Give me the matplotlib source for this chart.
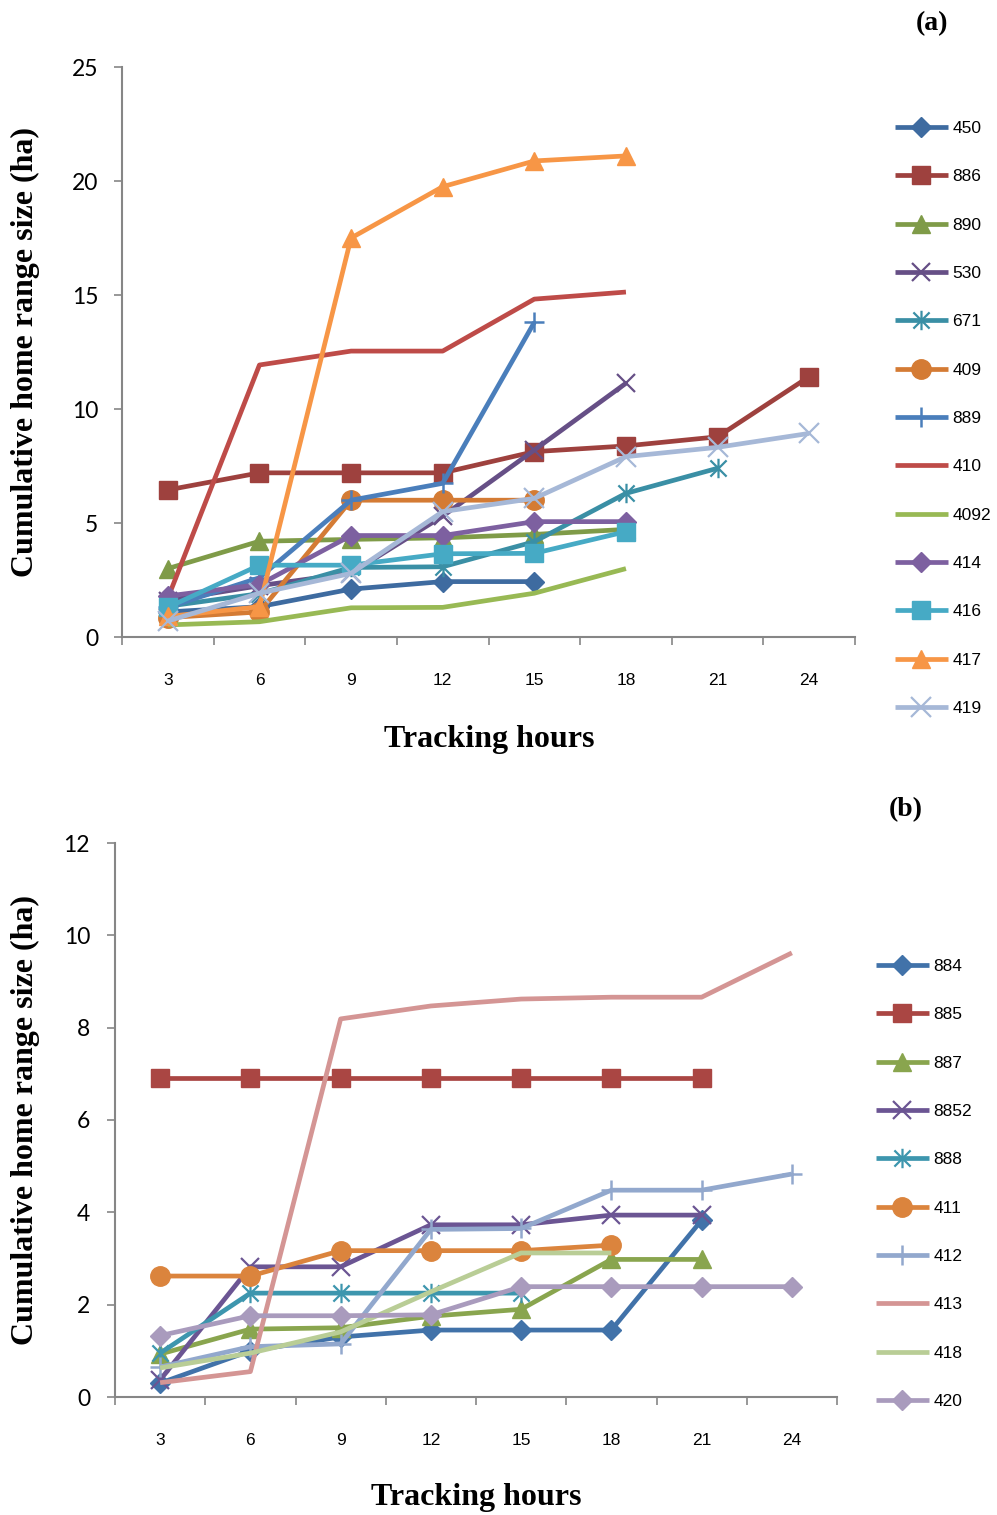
import numpy as np
import matplotlib
matplotlib.use('Agg')
import matplotlib.pyplot as plt
from matplotlib.path import Path
from matplotlib.ticker import FixedLocator, NullFormatter, FixedFormatter

# ---------------- data ----------------
hours = [3, 6, 9, 12, 15, 18, 21, 24]

# panel (a)
a_labels = ['450', '886', '890', '530', '671', '409', '889', '410', '4092', '414', '416', '417', '419']
a_450 = [1.1, 1.33, 2.1, 2.43, 2.43]
a_886 = [6.45, 7.2, 7.2, 7.2, 8.13, 8.38, 8.78, 11.42]
a_890 = [3.0, 4.2, 4.28, 4.35, 4.5, 4.72]
a_530 = [1.6, 2.25, 2.8, 5.3, 8.2, 11.13]
a_671 = [1.35, 1.9, 3.05, 3.08, 4.18, 6.3, 7.4]
a_409 = [0.85, 1.1, 6.0, 6.0, 6.0]
a_889 = [1.3, 2.6, 6.0, 6.74, 13.8]
a_410 = [1.7, 11.93, 12.54, 12.54, 14.82, 15.13]
a_4092 = [0.53, 0.67, 1.28, 1.3, 1.92, 3.0]
a_414 = [1.8, 2.3, 4.45, 4.45, 5.06, 5.06]
a_416 = [1.3, 3.15, 3.15, 3.65, 3.67, 4.62]
a_417 = [0.9, 1.33, 17.5, 19.75, 20.88, 21.1]
a_419 = [0.7, 1.92, 2.79, 5.5, 6.08, 7.91, 8.32, 8.93]

# panel (b)
b_labels = ['884', '885', '887', '8852', '888', '411', '412', '413', '418', '420']
b_884 = [0.3, 1.0, 1.3, 1.45, 1.45, 1.45, 3.83]
b_885 = [6.91, 6.91, 6.91, 6.91, 6.91, 6.91, 6.91]
b_887 = [0.93, 1.47, 1.5, 1.75, 1.9, 2.98, 2.98]
b_8852 = [0.37, 2.82, 2.82, 3.73, 3.73, 3.94, 3.94]
b_888 = [0.95, 2.25, 2.25, 2.25, 2.25]
b_411 = [2.62, 2.62, 3.17, 3.17, 3.17, 3.29]
b_412 = [0.65, 1.09, 1.15, 3.63, 3.65, 4.48, 4.48, 4.83]
b_413 = [0.31, 0.55, 8.19, 8.47, 8.62, 8.66, 8.66, 9.62]
b_418 = [0.63, 0.95, 1.41, 2.28, 3.12, 3.12]
b_420 = [1.33, 1.76, 1.76, 1.78, 2.39, 2.39, 2.39, 2.39]

a_series = [a_450, a_886, a_890, a_530, a_671, a_409, a_889, a_410, a_4092, a_414, a_416, a_417, a_419]
b_series = [b_884, b_885, b_887, b_8852, b_888, b_411, b_412, b_413, b_418, b_420]

# ---------------- styles ----------------
star = Path([(-1, -1), (1, 1), (-1, 1), (1, -1), (0, -1.2), (0, 1.2)],
            [Path.MOVETO, Path.LINETO] * 3)

a_styles = [
    dict(color='#3E6BA0', marker='D', ms=10),
    dict(color='#9E413E', marker='s', ms=13),
    dict(color='#7F9B48', marker='^', ms=13),
    dict(color='#664F86', marker='x', ms=13, mew=1.6),
    dict(color='#3A8FA5', marker=star, ms=14, mew=1.6),
    dict(color='#D47B34', marker='o', ms=14),
    dict(color='#4A7EBB', marker='+', ms=15, mew=1.8),
    dict(color='#BE4B48', marker=None),
    dict(color='#98B954', marker=None),
    dict(color='#7D60A0', marker='D', ms=10),
    dict(color='#46AAC5', marker='s', ms=13),
    dict(color='#F79646', marker='^', ms=13),
    dict(color='#A6B8D7', marker='x', ms=15, mew=1.6),
]
b_styles = [
    dict(color='#4172A9', marker='D', ms=10),
    dict(color='#AA4643', marker='s', ms=13),
    dict(color='#89A54E', marker='^', ms=13),
    dict(color='#6B5593', marker='x', ms=13, mew=1.6),
    dict(color='#3D96AE', marker=star, ms=14, mew=1.6),
    dict(color='#DB843D', marker='o', ms=14),
    dict(color='#92A8CD', marker='+', ms=15, mew=1.8),
    dict(color='#D49594', marker=None),
    dict(color='#B9CD96', marker=None),
    dict(color='#A99BBD', marker='D', ms=10),
]

W, H = 997, 1515
fig = plt.figure(figsize=(W / 100, H / 100), dpi=100)

SPINE = '#868686'


def px_rect(left, top, right, bottom):
    return [left / W, 1 - bottom / H, (right - left) / W, (bottom - top) / H]


def draw_panel(rect, series, labels, styles, ymax, ystep, ypad, legend_xy):
    ax = fig.add_axes(rect)
    pos = np.arange(len(hours))
    handles = []
    for vals, lab, st in zip(series, labels, styles):
        st = dict(st)
        color = st.pop('color')
        marker = st.pop('marker')
        ms = st.pop('ms', 0)
        mew = st.pop('mew', 1.0)
        h, = ax.plot(pos[:len(vals)], vals, color=color, lw=3.4,
                     marker=marker, ms=ms, mew=mew, mec=color, mfc=color,
                     label=lab, solid_joinstyle='round', solid_capstyle='butt')
        handles.append(h)
    ax.set_xlim(-0.5, len(hours) - 0.5)
    ax.set_ylim(0, ymax)
    for s in ['top', 'right']:
        ax.spines[s].set_visible(False)
    for s in ['left', 'bottom']:
        ax.spines[s].set_color(SPINE)
        ax.spines[s].set_linewidth(1.5)
    # category axis: ticks at boundaries, labels at centers
    ax.xaxis.set_major_locator(FixedLocator(np.arange(-0.5, len(hours), 1.0)))
    ax.xaxis.set_major_formatter(NullFormatter())
    ax.xaxis.set_minor_locator(FixedLocator(pos))
    ax.xaxis.set_minor_formatter(FixedFormatter([str(h) for h in hours]))
    ax.tick_params(axis='x', which='major', direction='out', length=6, width=1.2, color=SPINE)
    ax.tick_params(axis='x', which='minor', length=0, pad=26, labelsize=12.5)
    for t in ax.xaxis.get_minorticklabels():
        t.set_fontfamily('Liberation Sans')
    ax.set_yticks(np.arange(0, ymax + 0.01, ystep))
    ax.set_yticklabels([str(int(v)) for v in np.arange(0, ymax + 0.01, ystep)])
    ax.tick_params(axis='y', direction='out', length=6, width=1.2, color=SPINE, pad=ypad)
    for t in ax.get_yticklabels():
        t.set_fontfamily('Lato')
        t.set_fontsize(16.5)
    fig.legend(handles=handles, loc='upper left', bbox_to_anchor=legend_xy,
               bbox_transform=fig.transFigure, frameon=False,
               prop=dict(family='Liberation Sans', size=12.5),
               handlelength=3.05, handletextpad=0.25, labelspacing=1.91,
               borderpad=0, borderaxespad=0, markerscale=1.0)
    return ax


ax1 = draw_panel(px_rect(122, 67, 855, 637), a_series, a_labels, a_styles,
                 25, 5, 11, (895 / W, 1 - 121 / H))
ax2 = draw_panel(px_rect(115, 843, 837, 1397), b_series, b_labels, b_styles,
                 12, 2, 12, (876 / W, 1 - 959 / H))

serif_bold = dict(family='Liberation Serif', weight='bold')
fig.text(489 / W, 1 - 739 / H, 'Tracking hours', ha='center', va='center', size=23, **serif_bold)
fig.text(476 / W, 1 - 1497 / H, 'Tracking hours', ha='center', va='center', size=23, **serif_bold)
fig.text(25 / W, 1 - 352 / H, 'Cumulative home range size (ha)', ha='center', va='center',
         rotation=90, size=23, **serif_bold)
fig.text(25 / W, 1 - 1120 / H, 'Cumulative home range size (ha)', ha='center', va='center',
         rotation=90, size=23, **serif_bold)
fig.text(932 / W, 1 - 24 / H, '(a)', ha='center', va='center', size=20, **serif_bold)
fig.text(906 / W, 1 - 810 / H, '(b)', ha='center', va='center', size=20, **serif_bold)

fig.savefig('out.png', dpi=100)
